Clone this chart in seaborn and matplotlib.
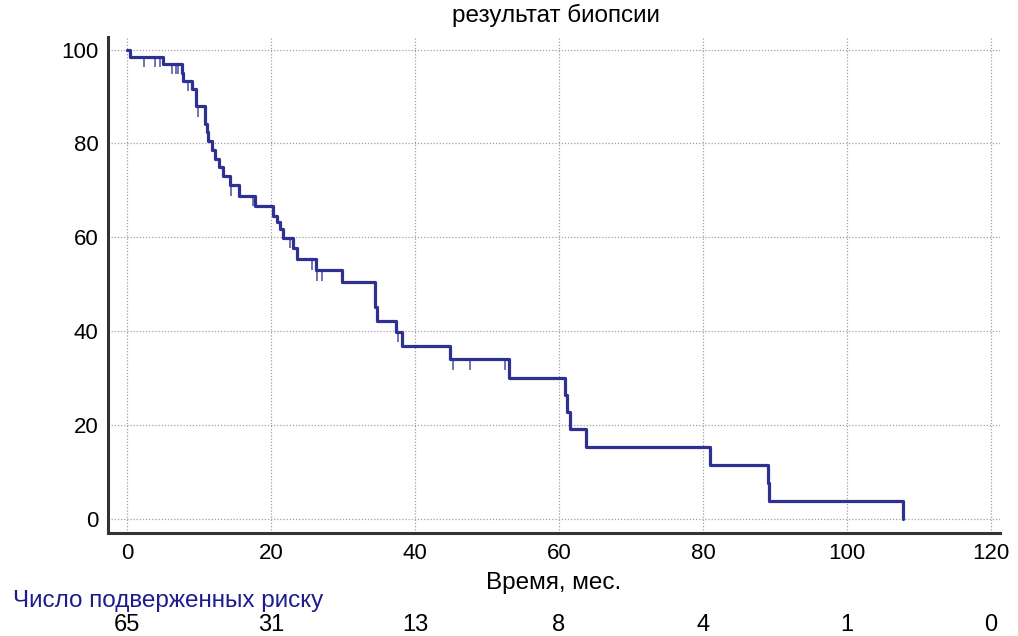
import numpy as np
import matplotlib
matplotlib.use("Agg")
import matplotlib.pyplot as plt
import matplotlib.transforms as mtransforms
import seaborn as sns

# Kaplan-Meier step data (months, survival %)
event_times = [0.4, 5.0, 7.6, 7.8, 9.0, 9.6, 10.8, 11.1, 11.25, 11.8, 12.2, 12.8,
               13.4, 14.3, 15.5, 17.8, 20.3, 20.8, 21.25, 21.6, 23.1, 23.6, 26.3,
               29.8, 34.4, 34.7, 37.3, 38.2, 44.8, 53.1, 60.8, 61.1, 61.5, 63.75,
               81.0, 89.0, 89.2, 107.8]
survival = [98.5, 96.9, 95.1, 93.3, 91.6, 87.9, 84.2, 82.4, 80.6, 78.7, 76.8, 75.0,
            73.0, 71.1, 68.8, 66.7, 64.6, 63.2, 61.8, 59.9, 57.8, 55.3, 53.0,
            50.5, 45.2, 42.2, 39.9, 36.9, 34.0, 30.1, 26.5, 22.8, 19.1, 15.3,
            11.4, 7.6, 3.8, 0.0]

# censored observations (months)
censor_times = [2.4, 3.9, 4.6, 6.2, 6.8, 7.1, 8.5, 9.8, 14.5, 17.5, 22.6, 25.7,
                26.4, 27.1, 37.7, 45.3, 47.7, 52.5]

# number at risk table
risk_times = [0, 20, 40, 60, 80, 100, 120]
risk_counts = [65, 31, 13, 8, 4, 1, 0]

title = "результат биопсии"
xlabel = "Время, мес."
risk_label = "Число подверженных риску"

line_color = "#2e3192"
risk_color = "#1c1c8c"

sns.set_style("white")
plt.rcParams["font.family"] = ["Liberation Sans", "DejaVu Sans"]
plt.rcParams["text.color"] = "black"
plt.rcParams["xtick.labelcolor"] = "black"
plt.rcParams["ytick.labelcolor"] = "black"

fig = plt.figure(figsize=(10.18, 6.36), dpi=100)
ax = fig.add_axes([0.1061, 0.1619, 0.8762, 0.78])

t = np.concatenate([[0.0], event_times])
s = np.concatenate([[100.0], survival])
sns.lineplot(x=t, y=s, drawstyle="steps-post", color=line_color, lw=2.3,
             estimator=None, sort=False, ax=ax)

# censor marks hang below the curve level
ct = np.asarray(censor_times)
idx = np.searchsorted(t, ct, side="right") - 1
cs = s[idx]
ax.vlines(ct, cs - 2.2, cs, color=line_color, lw=1.2, alpha=0.8)

ax.set_xlim(-2.64, 121.25)
ax.set_ylim(-3.0, 102.7)
ax.set_xticks(np.arange(0, 121, 20))
ax.set_xticks(np.arange(10, 121, 20), minor=True)
ax.set_yticks(np.arange(0, 101, 20))
ax.set_yticks(np.arange(10, 101, 20), minor=True)

ax.grid(True, which="major", color="#a0a0a0", linestyle=(0, (1, 1.5)), lw=0.9)
ax.set_axisbelow(True)

for side in ("top", "right"):
    ax.spines[side].set_visible(False)
for side in ("left", "bottom"):
    ax.spines[side].set_color("#333333")
    ax.spines[side].set_linewidth(2.2)

ax.tick_params(axis="both", which="major", direction="in", length=10, width=2.2,
               color="#333333", labelsize=16, pad=7)
ax.tick_params(axis="both", which="minor", direction="in", length=5, width=1.0,
               color="#555555")

ax.set_xlabel(xlabel, fontsize=17.5, labelpad=6, color="black")
ax.set_ylabel("")
fig.text(0.546, 0.975, title, ha="center", va="center", fontsize=17.5)

# number-at-risk rows under the axis
fig.text(13 / 1018, 1 - 601 / 636, risk_label, ha="left", va="center",
         fontsize=17.5, color=risk_color)
trans = mtransforms.blended_transform_factory(ax.transData, fig.transFigure)
for rt, rc in zip(risk_times, risk_counts):
    ax.text(rt, 1 - 625 / 636, str(rc), transform=trans, ha="center",
            va="center", fontsize=17)

fig.savefig("out.png", dpi=100)
